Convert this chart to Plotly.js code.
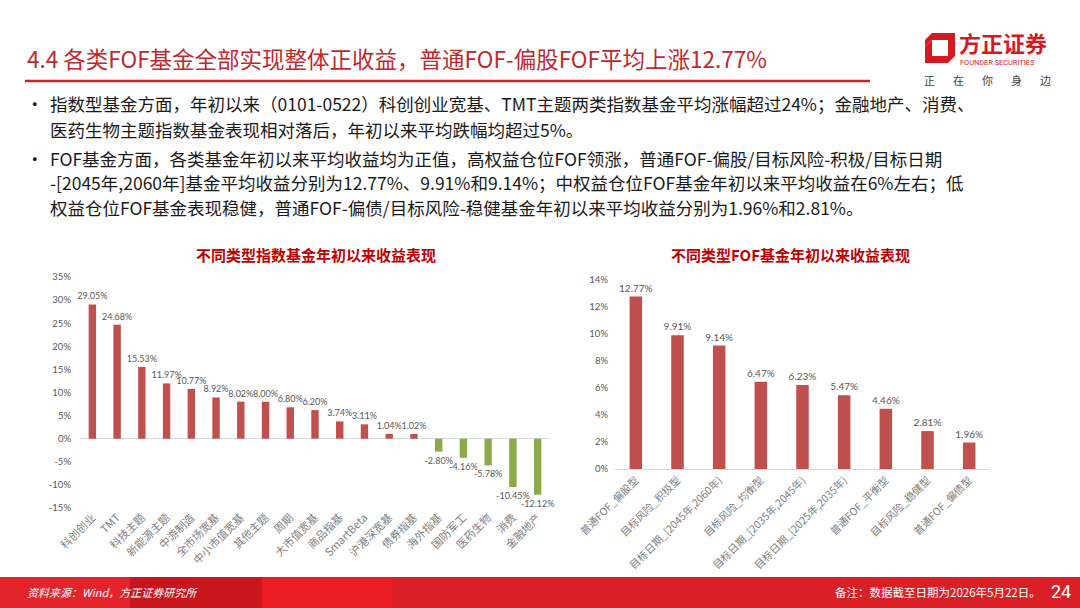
<!DOCTYPE html>
<html><head><meta charset="utf-8">
<script src="https://cdn.plot.ly/plotly-3.0.1.min.js"></script>
<style>html,body{margin:0;padding:0;background:#fff;overflow:hidden}#chart{width:1080px;height:608px}</style>
</head><body><div id="chart"></div>
<script>
// ---- data ----
const indexCategories = ["科创创业","TMT","科技主题","新能源主题","中游制造","全市场宽基","中小市值宽基","其他主题","周期","大市值宽基","商品指基","SmartBeta","沪港深宽基","债券指基","海外指基","国防军工","医药生物","消费","金融地产"];
const indexReturns = [29.05,24.68,15.53,11.97,10.77,8.92,8.02,8.00,6.80,6.20,3.74,3.11,1.04,1.02,-2.80,-4.16,-5.78,-10.45,-12.12];
const fofCategories = ["普通FOF_偏股型","目标风险_积极型","目标日期_[2045年,2060年)","目标风险_均衡型","目标日期_[2035年,2045年)","目标日期_[2025年,2035年)","普通FOF_平衡型","目标风险_稳健型","普通FOF_偏债型"];
const fofReturns = [12.77,9.91,9.14,6.47,6.23,5.47,4.46,2.81,1.96];
const indexTicks = [-15,-10,-5,0,5,10,15,20,25,30,35];
const fofTicks = [0,2,4,6,8,10,12,14];

const pageTitle = "4.4 各类FOF基金全部实现整体正收益，普通FOF-偏股FOF平均上涨12.77%";
const leftTitle = "不同类型指数基金年初以来收益表现";
const rightTitle = "不同类型FOF基金年初以来收益表现";
const bullet1 = ["指数型基金方面，年初以来（0101-0522）科创创业宽基、TMT主题两类指数基金平均涨幅超过24%；金融地产、消费、",
                 "医药生物主题指数基金表现相对落后，年初以来平均跌幅均超过5%。"];
const bullet2 = ["FOF基金方面，各类基金年初以来平均收益均为正值，高权益仓位FOF领涨，普通FOF-偏股/目标风险-积极/目标日期",
                 "-[2045年,2060年]基金平均收益分别为12.77%、9.91%和9.14%；中权益仓位FOF基金年初以来平均收益在6%左右；低",
                 "权益仓位FOF基金表现稳健，普通FOF-偏债/目标风险-稳健基金年初以来平均收益分别为1.96%和2.81%。"];
const sloganChars = ["正","在","你","身","边"];
const sourceText = "资料来源：Wind，方正证券研究所";
const noteText = "备注：数据截至日期为2026年5月22日。";
const pageNo = "24";

// ---- layout helpers ----
const W = 1080, H = 608;
const px = x => x / W;
const py = y => 1 - y / H;
const CJK = "Noto Sans CJK SC";
const NUM = "Lato, 'Open Sans', sans-serif";
const RED = "#C0282D";
const BAR_RED = "#C0504D";
const BAR_GREEN = "#8DAA4B";
const GREY = "#595959";

const traces = [
  {
    type: "bar", x: indexCategories, y: indexReturns, xaxis: "x", yaxis: "y",
    marker: {color: indexReturns.map(v => v >= 0 ? BAR_RED : BAR_GREEN)},
    texttemplate: "%{y:.2f}%", textposition: "outside", constraintext: "none",
    textfont: {family: NUM, size: 9, color: GREY}, cliponaxis: false, hoverinfo: "skip"
  },
  {
    type: "bar", x: fofCategories, y: fofReturns, xaxis: "x2", yaxis: "y2",
    marker: {color: BAR_RED},
    texttemplate: "%{y:.2f}%", textposition: "outside", constraintext: "none",
    textfont: {family: NUM, size: 10, color: GREY}, cliponaxis: false, hoverinfo: "skip"
  }
];

const ann = [];
function txt(text, x, y, opts) {
  ann.push(Object.assign({text, x: px(x), y: py(y), xref: "paper", yref: "paper",
    showarrow: false, xanchor: "left", yanchor: "middle"}, opts || {}));
}
txt(pageTitle, 25, 58, {font: {family: CJK, size: 22.5, color: RED}});
// logo text
txt("<b>方正证券</b>", 957, 42, {font: {family: CJK, size: 22, color: "#D7191F"}});
txt("FOUNDER SECURITIES", 958, 62, {font: {family: "Roboto, sans-serif", size: 7.4, color: "#D7191F"}});
sloganChars.forEach((c, i) => txt(c, 929 + i * 29, 80, {xanchor: "center", font: {family: CJK, size: 11, color: "#404040"}}));
// bullets
const bodyFont = {family: CJK, size: 17.5, color: "#1a1a1a"};
txt("•", 24, 104, {font: bodyFont});
txt(bullet1[0], 48, 104, {font: bodyFont});
txt(bullet1[1], 48, 129, {font: bodyFont});
txt("•", 24, 158, {font: bodyFont});
txt(bullet2[0], 48, 158, {font: bodyFont});
txt(bullet2[1], 48, 182.5, {font: bodyFont});
txt(bullet2[2], 48, 207, {font: bodyFont});
// chart titles
txt("<b>" + leftTitle + "</b>", 316, 254, {xanchor: "center", font: {family: CJK, size: 15, color: "#C00000"}});
txt("<b>" + rightTitle + "</b>", 790, 254, {xanchor: "center", font: {family: CJK, size: 15, color: "#C00000"}});
// footer
txt("<i>" + sourceText + "</i>", 25, 592, {font: {family: CJK, size: 11, color: "#ffffff"}});
txt(noteText, 1043, 592, {xanchor: "right", font: {family: CJK, size: 11.5, color: "#ffffff"}});
txt(pageNo, 1061, 591, {xanchor: "center", font: {family: "Roboto, sans-serif", size: 18, color: "#ffffff"}});

function rect(x0, y0, x1, y1, color) {
  return {type: "rect", xref: "paper", yref: "paper", x0: px(x0), x1: px(x1), y0: py(y1), y1: py(y0),
    fillcolor: color, line: {width: 0}, layer: "below"};
}
function path(points, color) {
  const d = points.map((p, i) => (i ? "L" : "M") + px(p[0]).toFixed(5) + "," + py(p[1]).toFixed(5)).join(" ") + " Z";
  return {type: "path", xref: "paper", yref: "paper", path: d, fillcolor: color, line: {width: 0}};
}
const shapes = [
  {type: "line", xref: "paper", yref: "paper", x0: px(25), x1: px(870), y0: py(81), y1: py(81), line: {color: RED, width: 2.5}},
  rect(0, 577, 130, 608, "#E3252B"),
  rect(130, 577, 262, 608, "#C9161E"),
  rect(262, 577, 392, 608, "#EC1C24"),
  rect(392, 577, 1080, 608, "#DB1F27"),
  // logo icon
  path([[932,33],[955,33],[955,56],[948,63],[948,40],[932,40],[925,47],[925,40]], "#D7191F"),
  path([[925,47],[932,40],[932,56],[948,56],[948,63],[925,63]], "#D7191F")
];

const tickFontY = {family: NUM, size: 9.5, color: GREY};
const layout = {
  width: W, height: H, margin: {l: 0, r: 0, t: 0, b: 0},
  paper_bgcolor: "#ffffff", plot_bgcolor: "rgba(0,0,0,0)",
  showlegend: false, bargap: 0.7,
  xaxis: {domain: [px(80), px(550)], anchor: "y", type: "category", tickangle: -45,
    tickfont: {family: CJK, size: 11, color: "#7F7F7F"}, showline: false, ticks: "", showgrid: false, zeroline: false, fixedrange: true},
  yaxis: {domain: [py(508), py(277)], anchor: "x", range: [-15, 35], tickvals: indexTicks,
    ticktext: indexTicks.map(v => v + "%"), tickfont: tickFontY, showgrid: false, ticklabelstandoff: 8,
    zeroline: true, zerolinecolor: "#D9D9D9", zerolinewidth: 1, showline: false, ticks: "", fixedrange: true},
  xaxis2: {domain: [px(615), px(990)], anchor: "y2", type: "category", tickangle: -45,
    tickfont: {family: CJK, size: 10.5, color: "#7F7F7F"}, showline: true, linecolor: "#D9D9D9", linewidth: 1, ticks: "", showgrid: false, zeroline: false, fixedrange: true},
  yaxis2: {domain: [py(469), py(280)], anchor: "x2", range: [0, 14], tickvals: fofTicks,
    ticktext: fofTicks.map(v => v + "%"), tickfont: tickFontY, showgrid: false, ticklabelstandoff: 6,
    zeroline: false, showline: false, ticks: "", fixedrange: true},
  annotations: ann,
  shapes: shapes
};
Plotly.newPlot("chart", traces, layout, {displayModeBar: false, staticPlot: true});
</script>
</body></html>
